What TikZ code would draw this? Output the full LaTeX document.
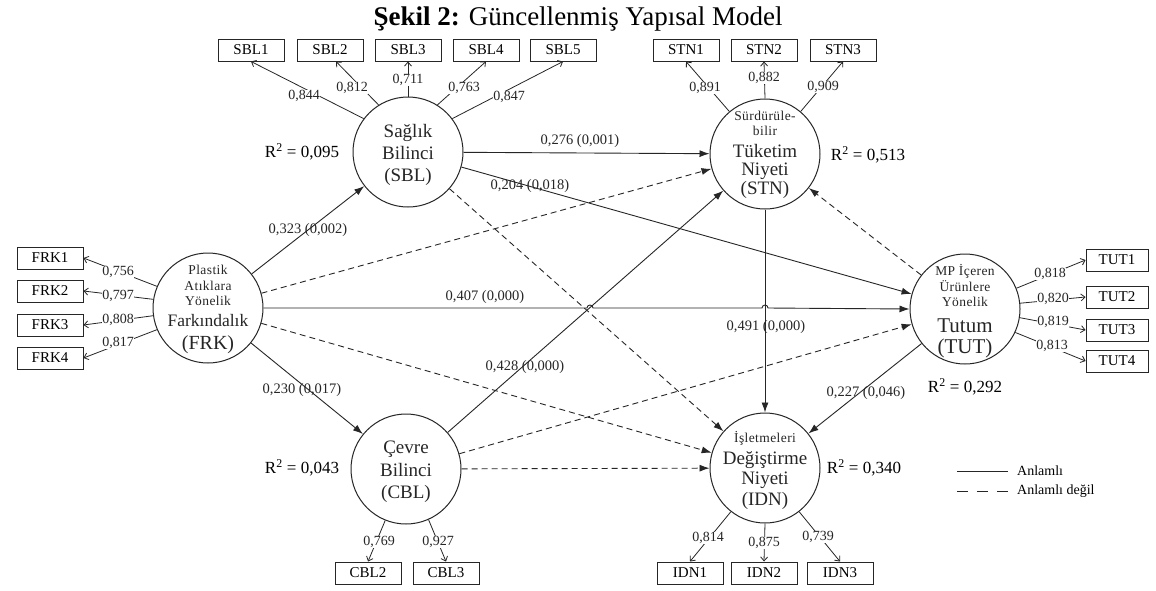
\documentclass[tikz,border=0pt]{standalone}
\usepackage{fontspec}
\setmainfont{Liberation Serif}
\newfontfamily\spfont[LetterSpace=3]{Liberation Serif}
\usetikzlibrary{arrows.meta}
\begin{document}
\begin{tikzpicture}[x=1pt,y=-1pt,
  lat/.style={circle,draw=black!85,line width=1pt,minimum size=110pt,inner sep=0pt},
  ind/.style={draw=black!85,line width=1pt,minimum width=66pt,minimum height=22pt,inner sep=0pt,font=\fontsize{15}{16}\selectfont},
  big/.style={anchor=base,font=\fontsize{19}{20}\selectfont,inner sep=0pt,text=black!85},
  sm/.style={anchor=base,font=\spfont\fontsize{13.5}{14}\selectfont,inner sep=0pt,text=black!85},
  sig/.style={draw=black!85,line width=0.9pt,-{Latex[length=10pt,width=7pt]}},
  ns/.style={sig,dash pattern=on 6pt off 4pt},
  load/.style={draw=black!85,line width=0.8pt,-{Straight Barb[length=4pt,width=7pt]}},
  lv/.style={fill=white,inner sep=0.5pt,font=\fontsize{14}{15}\selectfont,text=black!85},
  pl/.style={font=\fontsize{14.5}{15}\selectfont,inner sep=0pt,text=black!85},
  r2/.style={font=\fontsize{17}{18}\selectfont,inner sep=0pt},
  lg/.style={anchor=west,font=\fontsize{14}{15}\selectfont,inner sep=0pt}]
\fill[white] (0,0) rectangle (1156,590);
\useasboundingbox (0,0) rectangle (1156,590);

% title
\node[anchor=base,font=\fontsize{27}{30}\selectfont,inner sep=0pt] (title) at (578,25) {\textbf{Şekil 2:} Güncellenmiş Yapısal Model};

% latent variables
\node[lat] (SBL) at (408,152) {};
\node[lat] (STN) at (765,154) {};
\node[lat] (FRK) at (208,308) {};
\node[lat] (TUT) at (965,309) {};
\node[lat] (CBL) at (406,469) {};
\node[lat] (IDN) at (765,468) {};

% latent texts
\node[big] (SBLa) at (408,137) {Sağlık};
\node[big] (SBLb) at (408,159) {Bilinci};
\node[big] (SBLc) at (408,181) {(SBL)};

\node[sm] (STNa) at (765,120) {Sürdürüle-};
\node[sm] (STNb) at (765,135) {bilir};
\node[big] (STNc) at (765,157) {Tüketim};
\node[big] (STNd) at (765,175) {Niyeti};
\node[big] (STNe) at (765,194) {(STN)};

\node[sm] (FRKa) at (208,274) {Plastik};
\node[sm] (FRKb) at (208,290) {Atıklara};
\node[sm] (FRKc) at (208,305) {Yönelik};
\node[big,font=\fontsize{17.5}{18}\selectfont] (FRKd) at (208,326) {Farkındalık};
\node[big,font=\fontsize{20}{21}\selectfont] (FRKe) at (208,349) {(FRK)};

\node[sm] (TUTa) at (965,275) {MP İçeren};
\node[sm] (TUTb) at (965,291) {Ürünlere};
\node[sm] (TUTc) at (965,306) {Yönelik};
\node[big,font=\fontsize{21}{22}\selectfont] (TUTd) at (965,332) {Tutum};
\node[big,font=\fontsize{21}{22}\selectfont] (TUTe) at (965,353) {(TUT)};

\node[big] (CBLa) at (406,453) {Çevre};
\node[big] (CBLb) at (406,476) {Bilinci};
\node[big] (CBLc) at (406,498) {(CBL)};

\node[sm] (IDNa) at (765,442) {İşletmeleri};
\node[big] (IDNb) at (765,464) {Değiştirme};
\node[big] (IDNc) at (765,484) {Niyeti};
\node[big] (IDNd) at (765,505) {(IDN)};

% indicators
\node[ind] (SBL1) at (251,50) {SBL1};
\node[ind] (SBL2) at (330,50) {SBL2};
\node[ind] (SBL3) at (408,50) {SBL3};
\node[ind] (SBL4) at (486,50) {SBL4};
\node[ind] (SBL5) at (563,50) {SBL5};
\node[ind] (STN1) at (686,50) {STN1};
\node[ind] (STN2) at (764,50) {STN2};
\node[ind] (STN3) at (843,50) {STN3};
\node[ind] (FRK1) at (50,258) {FRK1};
\node[ind] (FRK2) at (50,291) {FRK2};
\node[ind] (FRK3) at (50,325) {FRK3};
\node[ind] (FRK4) at (50,358) {FRK4};
\node[ind,minimum width=62pt] (TUT1) at (1117,260) {TUT1};
\node[ind,minimum width=62pt] (TUT2) at (1117,297) {TUT2};
\node[ind,minimum width=62pt] (TUT3) at (1117,330) {TUT3};
\node[ind,minimum width=62pt] (TUT4) at (1117,361) {TUT4};
\node[ind] (CBL2) at (368,573) {CBL2};
\node[ind] (CBL3) at (446,573) {CBL3};
\node[ind] (IDN1) at (690,573) {IDN1};
\node[ind] (IDN2) at (764,573) {IDN2};
\node[ind] (IDN3) at (840,573) {IDN3};

% loadings
\draw[load] (SBL.143) -- (SBL1.south);
\draw[load] (SBL.122) -- ([xshift=6pt]SBL2.south);
\draw[load] (SBL.90) -- (SBL3.south);
\draw[load] (SBL.58) -- (SBL4.south);
\draw[load] (SBL.37) -- (SBL5.south);
\draw[load] (STN.130) -- (STN1.south);
\draw[load] (STN.90) -- (STN2.south);
\draw[load] (STN.50) -- (STN3.south);
\draw[load] (FRK.157) -- (FRK1.east);
\draw[load] (FRK.171) -- (FRK2.east);
\draw[load] (FRK.188) -- (FRK3.east);
\draw[load] (FRK.203) -- (FRK4.east);
\draw[load] (TUT.22) -- (TUT1.west);
\draw[load] (TUT.6) -- (TUT2.west);
\draw[load] (TUT.-9) -- (TUT3.west);
\draw[load] (TUT.-25) -- (TUT4.west);
\draw[load] (CBL.-112) -- (CBL2.north);
\draw[load] (CBL.-66) -- (CBL3.north);
\draw[load] (IDN.-128) -- (IDN1.north);
\draw[load] (IDN.-90) -- (IDN2.north);
\draw[load] (IDN.-52) -- (IDN3.north);

\node[lv] (l1) at (304,96) {0,844};
\node[lv] (l2) at (352,88) {0,812};
\node[lv] (l3) at (408,80) {0,711};
\node[lv] (l4) at (464,88) {0,763};
\node[lv] (l5) at (509,97) {0,847};
\node[lv] (l6) at (705,88) {0,891};
\node[lv] (l7) at (764,78) {0,882};
\node[lv] (l8) at (823,87) {0,909};
\node[lv] (l9) at (118,272) {0,756};
\node[lv] (l10) at (118,296) {0,797};
\node[lv] (l11) at (118,320) {0,808};
\node[lv] (l12) at (118,343) {0,817};
\node[lv] (l13) at (1050,274) {0,818};
\node[lv] (l14) at (1053,299) {0,820};
\node[lv] (l15) at (1053,322) {0,819};
\node[lv] (l16) at (1052,346) {0,813};
\node[lv] (l17) at (379,542) {0,769};
\node[lv] (l18) at (438,542) {0,927};
\node[lv] (l19) at (708,538) {0,814};
\node[lv] (l20) at (764,543) {0,875};
\node[lv] (l21) at (818,537) {0,739};

% structural paths
\coordinate (hA) at (587,308);
\coordinate (hB) at (762,308);
\draw[sig] (FRK) -- (SBL);
\draw[sig] (FRK) -- (CBL);
\draw[ns] (FRK) -- (STN);
\draw[ns] (FRK) -- (IDN);
\draw[sig] (FRK.east) -- (hA) arc[start angle=180,end angle=0,radius=3pt] -- (hB) arc[start angle=180,end angle=0,radius=3pt] -- (TUT.west);
\draw[sig] (SBL) -- (STN);
\draw[sig] (SBL) -- (TUT);
\draw[ns] (SBL) -- (IDN);
\draw[sig] (CBL) -- (STN);
\draw[ns] (CBL) -- (TUT);
\draw[ns] (CBL) -- (IDN);
\draw[sig] (STN) -- (IDN);
\draw[ns] (TUT) -- (STN);
\draw[sig] (TUT) -- (IDN);

% path coefficients
\node[pl] (p1) at (580,141) {0,276 (0,001)};
\node[pl] (p2) at (530,186) {0,204 (0,018)};
\node[pl] (p3) at (308,230) {0,323 (0,002)};
\node[pl] (p4) at (485,297) {0,407 (0,000)};
\node[pl] (p5) at (766,327) {0,491 (0,000)};
\node[pl] (p6) at (525,367) {0,428 (0,000)};
\node[pl] (p7) at (302,390) {0,230 (0,017)};
\node[pl] (p8) at (866,393) {0,227 (0,046)};

% R squared
\node[r2] (r1) at (302,152) {R\textsuperscript{2} = 0,095};
\node[r2] (r2) at (868,155) {R\textsuperscript{2} = 0,513};
\node[r2] (r3) at (965,387) {R\textsuperscript{2} = 0,292};
\node[r2] (r4) at (302,468) {R\textsuperscript{2} = 0,043};
\node[r2] (r5) at (864,468) {R\textsuperscript{2} = 0,340};

% legend
\coordinate (g1a) at (957,471);
\coordinate (g1b) at (1008,471);
\coordinate (g2a) at (957,491);
\coordinate (g2b) at (1008,491);
\draw[draw=black!85,line width=0.9pt] (g1a) -- (g1b);
\draw[draw=black!85,line width=0.9pt,dash pattern=on 11pt off 9pt] (g2a) -- (g2b);
\node[lg] (lgA) at (1017,471) {Anlamlı};
\node[lg] (lgB) at (1017,491) {Anlamlı değil};
\end{tikzpicture}
\end{document}
